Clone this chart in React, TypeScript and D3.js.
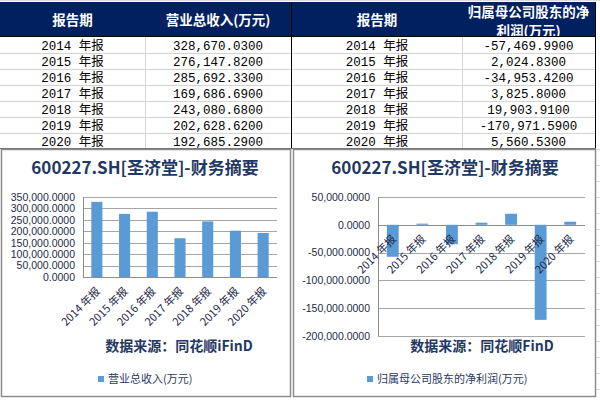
import React, { useEffect, useRef } from "react";
import * as d3 from "d3";

// table + chart data (万元)
const periods = ["2014 年报", "2015 年报", "2016 年报", "2017 年报", "2018 年报", "2019 年报", "2020 年报"];
const revenue = [328670.03, 276147.82, 285692.33, 169686.69, 243080.68, 202628.62, 192685.29];
const netProfit = [-57469.99, 2024.83, -34953.42, 3825.8, 19903.91, -170971.59, 5560.53];
const revenueTicks = [0, 50000, 100000, 150000, 200000, 250000, 300000, 350000];
const profitTicks = [-200000, -150000, -100000, -50000, 0, 50000];
const headersLeft = ["报告期", "营业总收入(万元)"];
const headersRight = ["报告期", ["归属母公司股东的净", "利润(万元)"]];
const chartTitle = "600227.SH[圣济堂]-财务摘要";
const sourcesText = ["数据来源：同花顺iFinD", "数据来源：同花顺FinD"];
const legendText = ["营业总收入(万元)", "归属母公司股东的净利润(万元)"];

const NAVY = "#1f3864";
const BAR = "#5b9bd5";
const CJK = "'Noto Sans CJK SC', 'Liberation Sans', sans-serif";
const MONO = "'Liberation Mono', 'Noto Sans CJK SC', monospace";

const locale = d3.formatLocale({
  decimal: ".",
  thousands: ",",
  grouping: [3],
  currency: ["", ""],
  minus: "-",
});
const fmt = locale.format(",.4f");

export default function App() {
  const chartRef = useRef(null);

  useEffect(() => {
    const width = 600;
    const height = 400;

    const svg = d3
      .create("svg")
      .attr("width", width)
      .attr("height", height)
      .attr("viewBox", [0, 0, width, height])
      .style("position", "absolute")
      .style("left", "0px")
      .style("top", "0px")
      .style("background", "#fff");

    // spreadsheet background lines on the far right
    const bg = svg.append("g").attr("stroke", "#dcdcdc");
    bg.append("line").attr("x1", 0).attr("x2", width).attr("y1", 0.5).attr("y2", 0.5);
    d3.range(149, 400, 16).forEach((y) => {
      bg.append("line").attr("x1", 596).attr("x2", 600).attr("y1", y + 0.5).attr("y2", y + 0.5);
    });

    // ---------- tables ----------
    const tables = [
      { x0: 0, xMid: 145, x1: 291, headers: headersLeft, values: revenue },
      { x0: 292, xMid: 462, x1: 595, headers: headersRight, values: netProfit },
    ];
    const headTop = 2;
    const headBottom = 36;
    const rowH = 16;

    tables.forEach((t) => {
      const g = svg.append("g");
      g.append("rect")
        .attr("x", t.x0)
        .attr("y", headTop)
        .attr("width", t.x1 - t.x0)
        .attr("height", headBottom - headTop)
        .attr("fill", "#002060");

      const cols = [(t.x0 + t.xMid) / 2, (t.xMid + t.x1) / 2];
      t.headers.forEach((h, i) => {
        const lines = Array.isArray(h) ? h : [h];
        lines.forEach((line, j) => {
          const cy = lines.length === 1 ? 20 : 12 + j * 18.5;
          g.append("text")
            .attr("x", cols[i])
            .attr("y", cy + 5)
            .attr("text-anchor", "middle")
            .attr("fill", "#fff")
            .attr("font-weight", "bold")
            .attr("font-size", 13.5)
            .attr("font-family", CJK)
            .text(line);
        });
      });

      periods.forEach((p, i) => {
        const y0 = headBottom + 1 + i * rowH;
        g.append("text")
          .attr("x", cols[0])
          .attr("y", y0 + 13)
          .attr("text-anchor", "middle")
          .attr("font-size", 12.5)
          .attr("font-family", MONO)
          .attr("fill", "#000")
          .text(p);
        g.append("text")
          .attr("x", cols[1])
          .attr("y", y0 + 13)
          .attr("text-anchor", "middle")
          .attr("font-size", 12.5)
          .attr("font-family", MONO)
          .attr("fill", "#000")
          .text(fmt(t.values[i]));
        if (i < periods.length - 1) {
          g.append("line")
            .attr("x1", t.x0)
            .attr("x2", t.x1)
            .attr("y1", y0 + rowH + 0.5)
            .attr("y2", y0 + rowH + 0.5)
            .attr("stroke", "#d4d4d4");
        }
      });

      const tableBottom = headBottom + 1 + periods.length * rowH;
      g.append("line")
        .attr("x1", t.xMid + 0.5)
        .attr("x2", t.xMid + 0.5)
        .attr("y1", headBottom)
        .attr("y2", tableBottom)
        .attr("stroke", "#d4d4d4");
      g.append("line")
        .attr("x1", t.x1 + 0.5)
        .attr("x2", t.x1 + 0.5)
        .attr("y1", headTop)
        .attr("y2", tableBottom)
        .attr("stroke", "#000");
      g.append("line")
        .attr("x1", t.x0)
        .attr("x2", t.x1)
        .attr("y1", headBottom + 0.5)
        .attr("y2", headBottom + 0.5)
        .attr("stroke", "#000");
      g.append("line")
        .attr("x1", t.x0)
        .attr("x2", t.x1 + 1)
        .attr("y1", tableBottom - 0.5)
        .attr("y2", tableBottom - 0.5)
        .attr("stroke", "#6e6e6e");
    });

    // ---------- charts ----------
    const charts = [
      {
        px: 1, pw: 289, cx: 145,
        left: 83, right: 277, top: 197, bottom: 277,
        values: revenue, ticks: revenueTicks, domain: [0, 350000],
        source: sourcesText[0], sourceX: 179,
        legend: legendText[0], legendX: 98,
      },
      {
        px: 293, pw: 302, cx: 445,
        left: 378, right: 585, top: 197, bottom: 336,
        values: netProfit, ticks: profitTicks, domain: [-200000, 50000],
        source: sourcesText[1], sourceX: 482,
        legend: legendText[1], legendX: 367,
      },
    ];

    charts.forEach((c) => {
      const g = svg.append("g");
      g.append("rect")
        .attr("x", c.px + 0.5)
        .attr("y", 149.5)
        .attr("width", c.pw)
        .attr("height", 247)
        .attr("fill", "#fff")
        .attr("stroke", "#8c8c8c")
        .attr("stroke-width", 1.5);

      g.append("text")
        .attr("x", c.cx)
        .attr("y", 174)
        .attr("text-anchor", "middle")
        .attr("font-size", 17)
        .attr("font-weight", "bold")
        .attr("font-family", CJK)
        .attr("fill", NAVY)
        .text(chartTitle);

      const x = d3
        .scaleBand()
        .domain(periods)
        .range([c.left, c.right])
        .paddingInner(0.6)
        .paddingOuter(0.3);
      const y = d3.scaleLinear().domain(c.domain).range([c.bottom, c.top]);

      // gridlines + y labels
      c.ticks.forEach((tk) => {
        g.append("line")
          .attr("x1", c.left)
          .attr("x2", c.right)
          .attr("y1", Math.round(y(tk)) + 0.5)
          .attr("y2", Math.round(y(tk)) + 0.5)
          .attr("stroke", tk === 0 ? "#8c8c8c" : "#a6a6a6");
        g.append("text")
          .attr("x", c.left - 8)
          .attr("y", y(tk) + 3.8)
          .attr("text-anchor", "end")
          .attr("font-size", 10.5)
          .attr("font-family", "'Liberation Sans', sans-serif")
          .attr("fill", "#1e2a4a")
          .text(fmt(tk));
      });
      g.append("line")
        .attr("x1", c.left + 0.5)
        .attr("x2", c.left + 0.5)
        .attr("y1", c.top)
        .attr("y2", c.bottom)
        .attr("stroke", "#8c8c8c");

      // bars
      g.append("g")
        .selectAll("rect")
        .data(c.values)
        .join("rect")
        .attr("x", (d, i) => x(periods[i]))
        .attr("width", x.bandwidth())
        .attr("y", (d) => y(Math.max(0, d)))
        .attr("height", (d) => Math.abs(y(d) - y(0)))
        .attr("fill", BAR);

      // rotated category labels under the zero line
      const zero = y(0);
      g.append("g")
        .selectAll("text")
        .data(periods)
        .join("text")
        .attr("transform", (d) => `translate(${x(d) + x.bandwidth() / 2 + 4},${zero + 15}) rotate(-45)`)
        .attr("text-anchor", "end")
        .attr("font-size", 11)
        .attr("font-family", CJK)
        .attr("fill", "#1e2a4a")
        .text((d) => d);

      g.append("text")
        .attr("x", c.sourceX)
        .attr("y", 351)
        .attr("text-anchor", "middle")
        .attr("font-size", 14)
        .attr("font-weight", "bold")
        .attr("font-family", CJK)
        .attr("fill", NAVY)
        .text(c.source);

      g.append("rect")
        .attr("x", c.legendX)
        .attr("y", 376)
        .attr("width", 6)
        .attr("height", 6)
        .attr("fill", BAR);
      g.append("text")
        .attr("x", c.legendX + 10)
        .attr("y", 383)
        .attr("font-size", 11)
        .attr("font-family", CJK)
        .attr("fill", NAVY)
        .text(c.legend);
    });

    chartRef.current.innerHTML = "";
    chartRef.current.appendChild(svg.node());
  }, []);

  return <div ref={chartRef} />;
}
